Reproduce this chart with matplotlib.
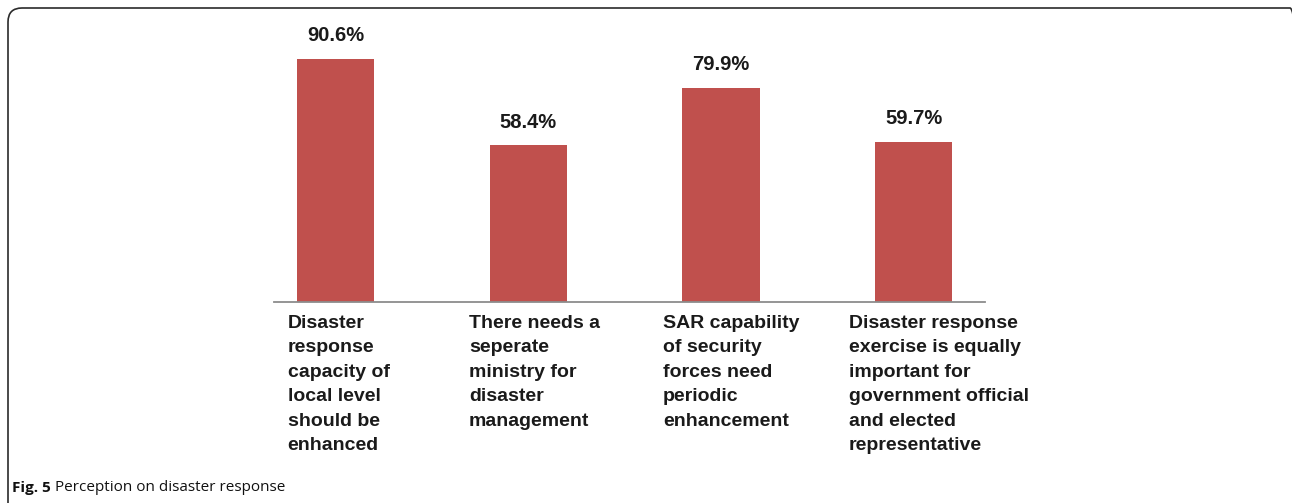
import matplotlib as mpl
import numpy as np
import matplotlib.pyplot as plt
from matplotlib.patches import FancyBboxPatch
from matplotlib.transforms import IdentityTransform

# data
categories = [
    'Disaster\nresponse\ncapacity of\nlocal level\nshould be\nenhanced',
    'There needs a\nseperate\nministry for\ndisaster\nmanagement',
    'SAR capability\nof security\nforces need\nperiodic\nenhancement',
    'Disaster response\nexercise is equally\nimportant for\ngovernment official\nand elected\nrepresentative',
]
percent = [90.6, 58.4, 79.9, 59.7]
caption_bold = 'Fig. 5'
caption_text = ' Perception on disaster response'

plt.rcParams['font.family'] = ['Liberation Sans', 'DejaVu Sans']

W, H = 1292, 503
fig = plt.figure(figsize=(W / 100, H / 100), dpi=100)
ax = fig.add_axes([274 / W, (H - 302) / H, 711 / W, 268 / H])

ind = np.arange(len(percent))
width = 0.40
bars = ax.bar(ind, percent, width, color='#C0504D')

ax.set_xlim(-0.32, 3.37)
ax.set_ylim(0, 100)
for s in ['top', 'right', 'left']:
    ax.spines[s].set_visible(False)
ax.spines['bottom'].set_color('#8c8c8c')
ax.spines['bottom'].set_linewidth(1.3)
ax.set_yticks([])
ax.set_xticks([])

# category labels under the bars (small horizontal nudges like the original)
nudge = [0.016, 0.031, 0.052, 0.13]
for i, lab in enumerate(categories):
    ax.annotate(lab, xy=(ind[i] + nudge[i], 0), xycoords=('data', 'axes fraction'),
                xytext=(0, -9), textcoords='offset points', ha='center', va='top',
                multialignment='left', fontsize=14, fontweight='bold',
                color='#1a1a1a', linespacing=1.58, annotation_clip=False)

# value labels on top of the bars
for rect, v in zip(bars, percent):
    ax.annotate('%.1f%%' % v, xy=(rect.get_x() + rect.get_width() / 2, v),
                xytext=(0, 10), textcoords='offset points', ha='center', va='bottom',
                fontsize=14.5, fontweight='bold', color='#1a1a1a')

# frame of the figure panel (top and left edges, rounded corners)
frame = FancyBboxPatch((8, -30), 1296, H - 8 + 30, boxstyle='round,pad=0,rounding_size=14',
                       transform=IdentityTransform(), fill=False, edgecolor='#2b2b2b',
                       linewidth=1.2)
fig.add_artist(frame)

# caption
t1 = fig.text(12 / W, 11 / H, caption_bold, fontsize=11, fontweight='bold',
              family=['Open Sans', 'DejaVu Sans'], color='#111111', va='baseline')
ax.annotate(caption_text, xy=(1, 0), xycoords=t1, va='bottom', ha='left',
            fontsize=11, family=['Open Sans', 'DejaVu Sans'], color='#111111',
            annotation_clip=False)

fig.savefig('out.png', dpi=100)
